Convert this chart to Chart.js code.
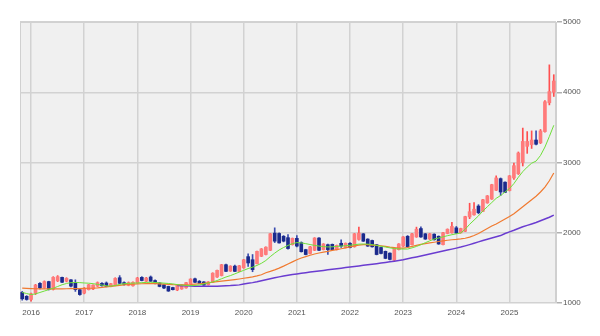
<!DOCTYPE html>
<html>
<head>
<meta charset="utf-8">
<script src="https://cdn.jsdelivr.net/npm/chart.js@4.4.1/dist/chart.umd.min.js"></script>
<style>
  html, body { margin: 0; padding: 0; background: #fff; }
  #wrap { width: 600px; height: 336px; }
</style>
</head>
<body>
<div id="wrap"><canvas id="candles"></canvas></div>
<script>
// monthly bars, Nov 2015 .. Nov 2025
const months = [];
for (let y = 2015, m = 11; months.length < 121; m++) {
  if (m > 12) { m = 1; y++; }
  months.push(y + '/' + String(m).padStart(2, '0'));
}

const open = [
  1150, 1095, 1050, 1140, 1280, 1220, 1305, 1195, 1315, 1365, 1310, 1330, 1285, 1190, 1140, 1190,
  1200, 1240, 1280, 1285, 1235, 1250, 1360, 1290, 1250, 1245, 1290, 1365, 1310, 1370, 1320, 1285,
  1260, 1236, 1220, 1185, 1200, 1215, 1275, 1345, 1310, 1300, 1260, 1295, 1370, 1390, 1545, 1455,
  1525, 1450, 1500, 1660, 1616, 1560, 1665, 1690, 1750, 1995, 1990, 1950, 1930, 1830, 1920, 1860,
  1760, 1705, 1750, 1925, 1760, 1830, 1835, 1760, 1850, 1790, 1850, 1800, 1905, 1985, 1910, 1890,
  1830, 1790, 1735, 1710, 1610, 1760, 1810, 1950, 1830, 1940, 2060, 1985, 1910, 1980, 1950, 1830,
  1990, 2000, 2070, 2000, 2020, 2225, 2255, 2380, 2305, 2425, 2480, 2605, 2770, 2720, 2600, 2780,
  2840, 3000, 3230, 3255, 3320, 3280, 3440, 3850, 4000
];
const high = [
  1165, 1105, 1140, 1265, 1290, 1315, 1310, 1375, 1390, 1370, 1360, 1335, 1330, 1200, 1220, 1265,
  1260, 1300, 1290, 1300, 1280, 1360, 1390, 1300, 1300, 1300, 1365, 1375, 1365, 1385, 1330, 1290,
  1265, 1240, 1225, 1260, 1265, 1295, 1345, 1355, 1320, 1305, 1305, 1430, 1470, 1550, 1555, 1530,
  1540, 1535, 1620, 1700, 1690, 1740, 1775, 1800, 1990, 2070, 2000, 1960, 1975, 1925, 1960, 1870,
  1765, 1805, 1930, 1930, 1845, 1840, 1840, 1825, 1900, 1855, 1860, 1990, 2080, 1990, 1915, 1895,
  1835, 1795, 1740, 1715, 1790, 1845, 1945, 1960, 1990, 2080, 2085, 1990, 1990, 1985, 1955, 2005,
  2055, 2150, 2090, 2065, 2235, 2420, 2430, 2400, 2475, 2530, 2690, 2810, 2780, 2725, 2815, 2990,
  3150, 3490, 3440, 3450, 3450, 3470, 3880, 4390, 4250
];
const low = [
  1040, 1040, 1025, 1120, 1200, 1210, 1185, 1185, 1305, 1290, 1300, 1230, 1165, 1110, 1130, 1185,
  1190, 1235, 1240, 1230, 1230, 1245, 1275, 1255, 1245, 1240, 1285, 1315, 1305, 1305, 1270, 1230,
  1205, 1165, 1185, 1175, 1195, 1210, 1270, 1290, 1275, 1250, 1255, 1290, 1365, 1385, 1445, 1450,
  1445, 1445, 1495, 1520, 1445, 1555, 1660, 1685, 1745, 1860, 1850, 1870, 1765, 1825, 1800, 1725,
  1685, 1700, 1745, 1745, 1755, 1690, 1755, 1755, 1790, 1785, 1785, 1795, 1895, 1875, 1805, 1795,
  1685, 1700, 1630, 1615, 1600, 1755, 1805, 1795, 1825, 1935, 1935, 1905, 1905, 1895, 1835, 1825,
  1985, 1995, 1990, 1995, 2015, 2200, 2250, 2270, 2300, 2420, 2475, 2600, 2530, 2570, 2595, 2760,
  2830, 2950, 3130, 3200, 3250, 3270, 3430, 3820, 3940
];
const close = [
  1060, 1050, 1130, 1255, 1215, 1305, 1195, 1365, 1375, 1295, 1350, 1240, 1190, 1120, 1210, 1260,
  1255, 1290, 1245, 1235, 1275, 1350, 1280, 1265, 1290, 1295, 1355, 1320, 1355, 1310, 1275, 1236,
  1213, 1170, 1190, 1255, 1260, 1290, 1340, 1295, 1280, 1255, 1300, 1425, 1465, 1545, 1450, 1525,
  1450, 1530, 1615, 1570, 1475, 1735, 1770, 1795, 1985, 1880, 1855, 1880, 1775, 1920, 1810, 1730,
  1690, 1800, 1925, 1750, 1840, 1760, 1760, 1820, 1810, 1850, 1790, 1985, 1995, 1880, 1810, 1800,
  1690, 1705, 1635, 1620, 1785, 1840, 1940, 1800, 1985, 2050, 1940, 1910, 1985, 1900, 1840, 2000,
  2050, 2090, 1995, 2060, 2230, 2300, 2335, 2285, 2470, 2525, 2685, 2780, 2580, 2575, 2810, 2955,
  3135, 3300, 3300, 3320, 3260, 3450, 3865, 4010, 4160
];

// moving averages: short, mid, long
const maShort = [
  1150, 1135, 1120, 1130, 1150, 1170, 1190, 1210, 1235, 1260, 1278, 1290, 1292, 1290, 1285, 1282,
  1275, 1265, 1255, 1245, 1240, 1250, 1265, 1275, 1280, 1283, 1285, 1290, 1293, 1295, 1292, 1288,
  1283, 1278, 1272, 1262, 1255, 1250, 1247, 1250, 1258, 1270, 1285, 1300, 1320, 1345, 1370, 1390,
  1415, 1440, 1465, 1490, 1510, 1535, 1565, 1605, 1660, 1710, 1755, 1790, 1820, 1845, 1860, 1855,
  1845, 1832, 1820, 1810, 1803, 1798, 1800, 1805, 1810, 1816, 1822, 1830, 1838, 1840, 1838, 1830,
  1820, 1808, 1797, 1785, 1775, 1770, 1768, 1768, 1785, 1805, 1830, 1858, 1885, 1910, 1925, 1942,
  1958, 1972, 1985, 1996, 2050, 2120, 2180, 2240, 2310, 2370, 2430, 2490, 2530, 2580, 2630, 2700,
  2790, 2870, 2935, 2990, 3020, 3100, 3220, 3370, 3530
];
const maMid = [
  1212, 1208, 1205, 1203, 1202, 1200, 1200, 1200, 1201, 1202, 1203, 1204, 1205, 1206, 1208, 1210,
  1212, 1216, 1222, 1230, 1238, 1245, 1252, 1258, 1263, 1267, 1271, 1274, 1276, 1277, 1276, 1273,
  1270, 1266, 1262, 1260, 1259, 1260, 1263, 1268, 1274, 1280, 1287, 1295, 1303, 1311, 1318, 1325,
  1333, 1342, 1352, 1362, 1372, 1386, 1402, 1430, 1450, 1472, 1497, 1525, 1555, 1585, 1615, 1640,
  1660, 1680, 1698, 1712, 1724, 1735, 1748, 1760, 1772, 1785, 1798, 1812, 1825, 1830, 1830, 1825,
  1820, 1815, 1805, 1795, 1788, 1783, 1782, 1790, 1805, 1820, 1835, 1845, 1855, 1865, 1875, 1885,
  1893, 1900, 1905, 1912, 1922, 1938, 1960, 1990, 2025, 2060, 2095, 2125, 2160, 2195, 2230, 2270,
  2320, 2370, 2420, 2470, 2520, 2580, 2650, 2740, 2850
];
const maLong = [
  null, null, null, null, null, null, null, null, null, null, null, null, null, null, null, null,
  null, null, null, null, null, null, null, null, null, null, null, null, null, null, null, null,
  null, null, null, 1248, 1246, 1244, 1242, 1240, 1239, 1238, 1238, 1239, 1240, 1242, 1245, 1248,
  1253, 1258, 1270, 1280, 1290, 1302, 1316, 1330, 1344, 1358, 1372, 1385, 1396, 1405, 1413, 1422,
  1431, 1440, 1448, 1456, 1464, 1472, 1480, 1488, 1496, 1504, 1512, 1520, 1528, 1536, 1544, 1552,
  1560, 1568, 1577, 1586, 1595, 1605, 1616, 1630, 1643, 1656, 1670, 1683, 1697, 1711, 1725, 1739,
  1753, 1767, 1781, 1796, 1813, 1831, 1850, 1870, 1890, 1908, 1925, 1942, 1960, 1990, 2012, 2035,
  2060, 2085, 2105, 2125, 2145, 2170, 2195, 2220, 2250
];

const rising = close.map((c, i) => c >= open[i]);
const wicks = months.map((_, i) => [low[i], high[i]]);
const bodies = months.map((_, i) => [open[i], close[i]]);

const labelFont = { family: 'Liberation Sans', size: 8 };

// grey plot area with a thin frame
const plotFrame = {
  id: 'plotFrame',
  beforeDraw(chart) {
    const { ctx, chartArea: a } = chart;
    ctx.save();
    ctx.fillStyle = '#f0f0f0';
    ctx.fillRect(a.left, a.top, a.right - a.left, a.bottom - a.top);
    ctx.strokeStyle = '#d0d0d0';
    ctx.lineWidth = 1;
    ctx.strokeRect(a.left + 0.5, a.top + 0.5, a.right - a.left - 1, a.bottom - a.top - 1);
    ctx.restore();
  }
};

new Chart(document.getElementById('candles'), {
  type: 'bar',
  data: {
    labels: months,
    datasets: [
      { type: 'line', data: maShort, borderColor: '#6fe03a', borderWidth: 1, pointRadius: 0 },
      { type: 'line', data: maMid, borderColor: '#f07a30', borderWidth: 1.2, pointRadius: 0 },
      { type: 'line', data: maLong, borderColor: '#6a3cd0', borderWidth: 1.5, pointRadius: 0 },
      {
        data: bodies,
        backgroundColor: rising.map(r => r ? '#ff7b7b' : '#1b2a8c'),
        barThickness: 3,
        minBarLength: 1
      },
      {
        data: wicks,
        backgroundColor: rising.map(r => r ? '#ff4f4f' : '#3a4cb0'),
        barThickness: 1
      }
    ]
  },
  options: {
    animation: false,
    responsive: true,
    maintainAspectRatio: false,
    layout: { padding: { left: 20, top: 22, right: 0, bottom: 0 } },
    datasets: { bar: { grouped: false, borderWidth: 0 } },
    plugins: { legend: { display: false }, tooltip: { enabled: false } },
    scales: {
      x: {
        grid: {
          offset: false,
          drawTicks: false,
          lineWidth: 1.5,
          color: ctx => months[ctx.index] && months[ctx.index].endsWith('/01') ? '#d2d2d2' : 'transparent'
        },
        border: { display: false },
        ticks: {
          autoSkip: false,
          maxRotation: 0,
          padding: 5,
          font: labelFont,
          color: '#555',
          callback: (v, i) => months[i].endsWith('/01') ? months[i].slice(0, 4) : ''
        },
        afterFit: s => { s.height = 33; }
      },
      y: {
        position: 'right',
        min: 1000,
        max: 5000,
        ticks: { stepSize: 1000, padding: 1, font: labelFont, color: '#555', callback: v => String(v) },
        grid: { color: '#d2d2d2', lineWidth: 1.5, tickColor: '#b0b0b0', tickLength: 6 },
        border: { color: '#d0d0d0' },
        afterFit: s => { s.width = 44; }
      }
    }
  },
  plugins: [plotFrame]
});
</script>
</body>
</html>
